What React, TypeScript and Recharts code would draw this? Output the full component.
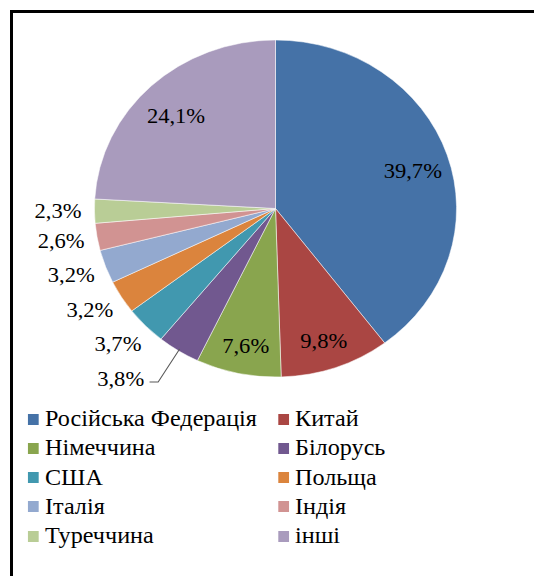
import React from 'react';
import { PieChart, Pie, Cell, Legend } from 'recharts';

// shares of trade partners, clockwise from 12 o'clock
const countries = [
  'Російська Федерація',
  'Китай',
  'Німеччина',
  'Білорусь',
  'США',
  'Польща',
  'Італія',
  'Індія',
  'Туреччина',
  'інші',
];
const shares = [39.7, 9.8, 7.6, 3.8, 3.7, 3.2, 3.2, 2.6, 2.3, 24.1];
const colors = [
  '#4572A7', '#AA4643', '#89A54E', '#71588F', '#4198AF',
  '#DB843D', '#93A9CF', '#D19392', '#B9CD96', '#A99BBD',
];

const chartData = countries.map((name, i) => ({ name, value: shares[i] }));

const FONT = "'Liberation Serif', serif";
const RADIAN = Math.PI / 180;
const INSIDE_MIN = 5; // slices at least this big get their label inside
// the source picture is stretched sideways, so the whole chart is drawn narrower and scaled
const STRETCH = 1.0745;
const W = 497;
const H = 576;

const fmt = (v: number) => v.toFixed(1).replace('.', ',') + '%';

const renderLabel = (props: any) => {
  const { cx, cy, midAngle, outerRadius, value, index } = props;
  const cos = Math.cos(-midAngle * RADIAN);
  const sin = Math.sin(-midAngle * RADIAN);
  const style = { fontFamily: FONT, fontSize: 21, fill: '#000' };

  if (value >= INSIDE_MIN) {
    const r = outerRadius * 0.8;
    return (
      <text x={cx + r * cos} y={cy + r * sin + 6} textAnchor="middle" dominantBaseline="central" style={style}>
        {fmt(value)}
      </text>
    );
  }

  // first small slice gets pushed down with a leader line
  const firstSmall = shares.findIndex((s) => s < INSIDE_MIN);
  if (index === firstSmall) {
    const x1 = cx + (outerRadius - 2) * cos;
    const y1 = cy + (outerRadius - 2) * sin;
    const x2 = x1 - 20;
    const y2 = y1 + 33;
    const x3 = x2 - 8;
    return (
      <g>
        <polyline points={`${x1},${y1} ${x2},${y2} ${x3},${y2}`} fill="none" stroke="#595959" strokeWidth={1} />
        <text x={x3 - 5} y={y2 - 3} textAnchor="end" dominantBaseline="central" style={style}>
          {fmt(value)}
        </text>
      </g>
    );
  }

  const r = outerRadius + 12;
  return (
    <text
      x={cx + r * cos + 10 * sin * sin}
      y={cy + r * sin + 14 * sin}
      textAnchor="end"
      dominantBaseline="central"
      style={style}
    >
      {fmt(value)}
    </text>
  );
};

const CustomLegend = () => (
  <div
    style={{
      display: 'grid',
      gridTemplateColumns: '232.7px 232.7px',
      fontFamily: FONT,
      fontSize: 22.5,
      color: '#000',
    }}
  >
    {countries.map((name, i) => (
      <div key={name} style={{ display: 'flex', alignItems: 'center', height: 29.25, whiteSpace: 'nowrap' }}>
        <span style={{ width: 10.2, height: 11, background: colors[i], marginRight: 5.7, flexShrink: 0 }} />
        <span>{name}</span>
      </div>
    ))}
  </div>
);

export default function App() {
  return (
    <div
      style={{
        position: 'absolute',
        left: 0,
        top: 0,
        width: 534,
        height: 576,
        background: '#fff',
        overflow: 'hidden',
        fontFamily: FONT,
      }}
    >
      <div
        style={{
          position: 'absolute',
          left: 10,
          top: 10,
          right: 0,
          bottom: 0,
          borderLeft: '3px solid #000',
          borderTop: '3px solid #000',
        }}
      />
      <div
        style={{
          position: 'absolute',
          left: 0,
          top: 0,
          width: W,
          height: H,
          transform: `scaleX(${STRETCH})`,
          transformOrigin: '0 0',
        }}
      >
        <PieChart width={W} height={H} margin={{ top: 0, right: 0, bottom: 0, left: 0 }}>
          <Pie
            data={chartData}
            dataKey="value"
            nameKey="name"
            cx={256.4}
            cy={208.5}
            outerRadius={168.5}
            startAngle={90}
            endAngle={-270}
            stroke="#fff"
            strokeWidth={0.5}
            label={renderLabel}
            labelLine={false}
            isAnimationActive={false}
          >
            {chartData.map((d, i) => (
              <Cell key={d.name} fill={colors[i]} />
            ))}
          </Pie>
          <Legend
            content={() => <CustomLegend />}
            wrapperStyle={{ position: 'absolute', left: 26, top: 404.4, width: 470 }}
          />
        </PieChart>
      </div>
    </div>
  );
}
